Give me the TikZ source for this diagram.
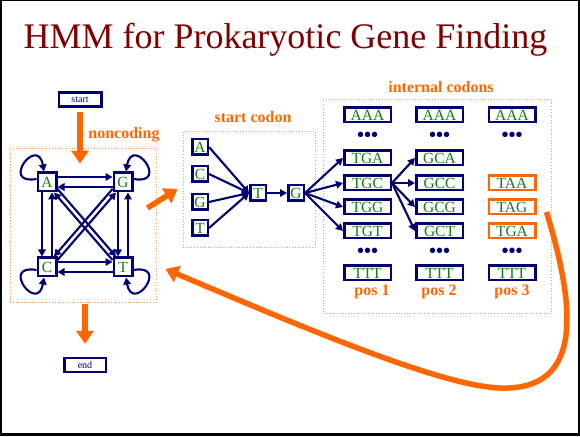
\documentclass[tikz,border=0pt]{standalone}
\usepackage{fontspec}
\setmainfont{Liberation Serif}
\usetikzlibrary{arrows.meta}
\definecolor{navyblue}{RGB}{0,0,110}
\definecolor{basegreen}{RGB}{20,125,20}
\definecolor{hmmorange}{RGB}{255,102,0}
\definecolor{titlered}{RGB}{128,0,0}
\begin{document}
\begin{tikzpicture}[x=1pt, y=1pt,
        base/.style={rectangle, draw=navyblue, line width=2.5pt, fill=white, text=basegreen, inner sep=0pt, font=\fontsize{15.5}{16}\selectfont},
        nuc/.style={base, minimum width=18.5pt, minimum height=18.5pt},
        snuc/.style={base, minimum width=15.5pt, minimum height=15.5pt},
        codon/.style={base, minimum width=46.5pt, minimum height=14.5pt},
        stopcodon/.style={codon, draw=hmmorange},
        endbox/.style={base, text=navyblue, minimum height=13.8pt, font=\fontsize{10}{10}\selectfont},
        region/.style={rectangle, draw=hmmorange!70, dotted, line width=0.8pt, inner sep=0pt},
        label/.style={text=hmmorange, font=\bfseries\fontsize{16}{16}\selectfont},
        dots/.style={text=navyblue, font=\bfseries\fontsize{20}{20}\selectfont},
        arc/.style={-{Triangle[length=7pt,width=7.5pt]}, draw=navyblue, line width=2.1pt},
        flow/.style={-{Triangle[length=13pt,width=17pt]}, draw=hmmorange, line width=5.5pt}
    ]
        % frame
        \useasboundingbox (0,0) rectangle (580,436);
        \fill[black] (0,0) rectangle (580,436);
        \fill[white] (2,3) rectangle (578,435);
        \node[text=titlered, font=\fontsize{36}{36}\selectfont] (title) at (285.5,396) {HMM for Prokaryotic Gene Finding};

        % regions
        \node[region, minimum width=146pt, minimum height=154pt] (ncbox) at (83,211) {};
        \node[region, minimum width=132pt, minimum height=116pt] (scbox) at (249,247) {};
        \node[region, minimum width=228pt, minimum height=214pt] (icbox) at (437,230) {};
        \node[label] (nclabel) at (124,301) {noncoding};
        \node[label] (sclabel) at (253,319) {start codon};
        \node[label] (iclabel) at (441,349) {internal codons};

        % noncoding
        \node[endbox, minimum width=42.5pt] (start) at (80,336.5) {start};
        \node[endbox, minimum width=41.5pt] (end) at (85,71) {end};
        \node[nuc] (nA) at (47,254) {A};
        \node[nuc] (nG) at (123,254) {G};
        \node[nuc] (nC) at (47,169) {C};
        \node[nuc] (nT) at (123,169) {T};
        \draw[flow] (start.south) ++(0,-4) coordinate (s0) -- ([yshift=-16pt]ncbox.north -| s0);
        \draw[flow] ([yshift=-2pt]ncbox.south -| end) -- ([yshift=13pt]end.north);
        \draw[arc] ([yshift=5pt]nA.east) -- ([yshift=5pt]nG.west);
        \draw[arc] ([yshift=-5pt]nG.west) -- ([yshift=-5pt]nA.east);
        \draw[arc] ([yshift=5pt]nC.east) -- ([yshift=5pt]nT.west);
        \draw[arc] ([yshift=-5pt]nT.west) -- ([yshift=-5pt]nC.east);
        \draw[arc] ([xshift=-5pt]nA.south) -- ([xshift=-5pt]nC.north);
        \draw[arc] ([xshift=5pt]nC.north) -- ([xshift=5pt]nA.south);
        \draw[arc] ([xshift=-5pt]nG.south) -- ([xshift=-5pt]nT.north);
        \draw[arc] ([xshift=5pt]nT.north) -- ([xshift=5pt]nG.south);
        \draw[arc] ([yshift=3.5pt]nA.south east) -- ([xshift=3.5pt]nT.north west);
        \draw[arc] ([yshift=-3.5pt]nT.north west) -- ([xshift=-3.5pt]nA.south east);
        \draw[arc] ([yshift=3.5pt]nG.south west) -- ([xshift=-3.5pt]nC.north east);
        \draw[arc] ([yshift=-3.5pt]nC.north east) -- ([xshift=3.5pt]nG.south west);
        \draw[arc] ([yshift=3pt]nA.west) to[out=190, in=100, looseness=9] ([xshift=-3pt]nA.north);
        \draw[arc] ([yshift=3pt]nG.east) to[out=-10, in=80, looseness=9] ([xshift=3pt]nG.north);
        \draw[arc] ([yshift=-3pt]nC.west) to[out=170, in=260, looseness=9] ([xshift=-3pt]nC.south);
        \draw[arc] ([yshift=-3pt]nT.east) to[out=10, in=280, looseness=9] ([xshift=3pt]nT.south);

        % start codon
        \draw[flow] ([xshift=-9pt, yshift=17pt]ncbox.east) -- ([xshift=-5pt]scbox.west);
        \node[snuc] (sA) at (200,289) {A};
        \node[snuc] (sC) at (200,262) {C};
        \node[snuc] (sG) at (200,234) {G};
        \node[snuc] (sT) at (200,208) {T};
        \node[snuc] (tT) at (258,243) {T};
        \node[snuc] (gG) at (296,243) {G};
        \draw[arc] (sA.east) -- (tT.west);
        \draw[arc] (sC.east) -- (tT.west);
        \draw[arc] (sG.east) -- (tT.west);
        \draw[arc] (sT.east) -- (tT.west);
        \draw[arc] (tT.east) -- (gG.west);

        % internal codons
        \node[codon] (p1AAA) at (367.5,321) {AAA};
        \node[dots] (p1dots) at (367.5,299) {•••};
        \node[codon] (p1TGA) at (367.5,278) {TGA};
        \node[codon] (p1TGC) at (367.5,253) {TGC};
        \node[codon] (p1TGG) at (367.5,229) {TGG};
        \node[codon] (p1TGT) at (367.5,205) {TGT};
        \node[dots] (p1more) at (367.5,183) {•••};
        \node[codon] (p1TTT) at (367.5,163) {TTT};
        \node[label] (pos1) at (372,144) {pos 1};

        \node[codon] (p2AAA) at (439.5,321) {AAA};
        \node[dots] (p2dots) at (439.5,299) {•••};
        \node[codon] (p2GCA) at (439.5,278) {GCA};
        \node[codon] (p2GCC) at (439.5,253) {GCC};
        \node[codon] (p2GCG) at (439.5,229) {GCG};
        \node[codon] (p2GCT) at (439.5,205) {GCT};
        \node[dots] (p2more) at (439.5,183) {•••};
        \node[codon] (p2TTT) at (439.5,163) {TTT};
        \node[label] (pos2) at (439,144) {pos 2};

        \node[codon] (p3AAA) at (512,321) {AAA};
        \node[dots] (p3dots) at (512,299) {•••};
        \node[stopcodon] (p3TAA) at (512,253) {TAA};
        \node[stopcodon] (p3TAG) at (512,229) {TAG};
        \node[stopcodon] (p3TGA) at (512,205) {TGA};
        \node[dots] (p3more) at (512,183) {•••};
        \node[codon] (p3TTT) at (512,163) {TTT};
        \node[label] (pos3) at (512,144) {pos 3};

        \draw[arc] (gG.east) -- (p1TGA.west);
        \draw[arc] (gG.east) -- (p1TGC.west);
        \draw[arc] (gG.east) -- (p1TGG.west);
        \draw[arc] (gG.east) -- (p1TGT.west);
        \draw[arc] (p1TGC.east) -- (p2GCA.west);
        \draw[arc] (p1TGC.east) -- (p2GCC.west);
        \draw[arc] (p1TGC.east) -- (p2GCG.west);
        \draw[arc] (p1TGC.east) -- (p2GCT.west);

        % back to noncoding
        \draw[flow] ([xshift=10pt, yshift=-5pt]p3TAG.east) .. controls (575,130) and (585,45) .. (500,48)
            .. controls (440,50) and (300,110) .. ([xshift=9pt, yshift=-44pt]ncbox.east);
    \end{tikzpicture}
\end{document}
